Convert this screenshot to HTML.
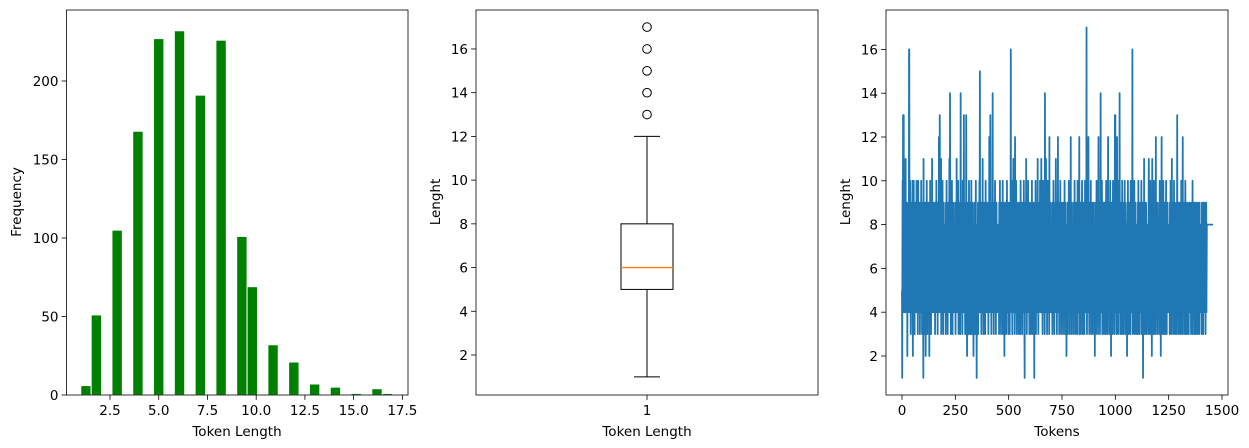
<!DOCTYPE html>
<html><head><meta charset="utf-8"><style>
body{margin:0;background:#fff}
svg{display:block;font-family:"DejaVu Sans","Liberation Sans",sans-serif}
text{font-size:13.5px;fill:#000}
</style></head><body>
<svg id="c" width="1249" height="448" viewBox="0 0 1249 448">
<g id="p1"></g>
<g id="p2"></g>
<g id="p3"></g>
</svg>
<script>
const histLengths=[1,2,3,4,5,6,7,8,9,10,11,12,13,14,15,16,17];
const histCounts=[6,51,105,168,227,232,191,226,101,69,32,21,7,5,1,4,1];
const histXTicks=[2.5,5.0,7.5,10.0,12.5,15.0,17.5];
const histYTicks=[0,50,100,150,200];
const boxStats=[1,5,6,8,12]; // whisker low, q1, median, q3, whisker high
const boxFliers=[13,14,15,16,17];
const lenTicks=[2,4,6,8,10,12,14,16];
const tokenTicks=[0,250,500,750,1000,1250,1500];
const tokenLengths=[
5,1,7,10,6,13,8,4,13,6,5,7,9,4,6,8,5,11,6,4,7,9,5,6,8,2,7,5,4,9,6,8,5,16,16,7,4,6,10,5,8,3,6,7,5,9,4,6,8,10,
5,2,7,6,4,10,5,8,6,3,7,9,5,6,4,8,7,5,10,6,4,8,5,7,3,6,10,5,8,4,6,7,5,9,3,6,8,5,7,4,10,6,5,8,3,7,6,9,5,4,
1,11,6,5,8,4,7,3,6,9,5,2,8,6,4,7,10,5,6,3,8,5,7,4,9,6,5,8,2,6,7,4,10,5,8,6,3,7,5,9,4,11,6,8,5,7,4,6,9,5,
4,8,6,5,7,3,9,6,4,8,5,10,6,7,4,5,9,3,8,6,5,7,4,12,6,5,8,13,7,4,6,9,5,11,3,7,6,8,4,5,10,6,7,3,8,5,9,4,6,7,
5,8,4,6,7,3,9,5,6,10,4,8,7,5,3,6,9,4,7,5,8,6,11,5,4,14,7,6,9,3,5,8,6,4,10,7,5,3,8,6,9,4,7,5,6,8,4,7,5,9,
6,3,8,5,7,4,11,6,9,5,4,8,7,10,6,3,5,8,4,9,7,6,5,3,8,14,6,4,7,9,5,8,6,3,7,10,4,5,8,6,13,7,4,9,5,6,3,8,7,5,
4,13,6,8,5,2,7,9,4,6,5,8,3,7,10,6,4,5,9,7,3,8,6,5,4,10,7,6,3,8,5,9,4,6,7,2,5,8,6,4,9,7,5,3,8,6,10,4,7,5,
1,6,8,4,7,5,9,3,6,8,5,7,4,10,6,15,8,5,7,4,6,9,3,5,8,6,7,4,11,5,6,8,3,7,9,4,6,5,8,7,3,6,10,5,4,8,7,6,9,5,
4,7,5,8,6,3,9,7,4,12,6,5,8,7,13,4,6,9,5,3,7,8,6,4,10,14,5,7,6,9,3,8,4,6,7,5,10,8,4,6,3,7,5,9,6,4,8,7,5,6,
5,8,4,7,6,3,9,5,8,10,4,6,7,5,3,8,6,9,4,7,5,6,10,3,8,7,4,6,9,5,2,8,6,7,4,5,9,6,3,8,7,5,10,4,6,8,5,7,3,9,
6,4,8,7,5,3,9,6,4,7,16,5,8,6,10,4,7,3,9,5,6,8,11,7,4,6,5,9,3,8,12,6,7,4,5,10,8,6,3,7,5,9,4,6,8,7,5,3,6,9,
5,7,4,8,6,3,10,5,9,7,4,6,8,5,3,7,9,6,4,8,5,10,7,6,3,1,8,5,9,4,7,6,11,5,8,3,6,7,4,9,5,10,6,8,4,7,5,3,9,6,
7,4,8,5,6,3,9,7,4,10,6,5,8,3,7,6,9,4,5,8,1,7,6,4,9,5,10,8,3,6,7,5,4,9,6,8,11,5,7,3,6,4,8,9,5,7,6,10,4,8,
5,6,7,11,4,8,6,9,5,3,7,10,6,4,8,5,7,9,6,3,14,8,5,7,4,11,6,9,5,8,3,7,6,10,4,8,5,7,9,6,3,12,5,8,7,4,6,9,5,7,
4,8,6,7,5,3,9,6,8,4,10,7,5,6,3,8,9,4,7,6,5,11,8,4,6,7,3,9,5,8,6,12,4,7,5,9,6,3,8,7,4,6,10,5,8,7,3,6,9,5,
6,8,4,7,5,3,9,6,4,8,7,5,10,6,3,9,4,8,7,5,6,2,8,4,7,9,5,6,3,8,7,4,10,6,5,9,8,3,7,6,4,12,5,8,6,7,3,9,5,4,
7,5,8,4,6,3,9,7,5,10,4,8,6,7,3,5,9,8,4,6,7,5,3,10,8,6,4,9,7,5,6,12,3,8,4,7,6,5,9,3,8,6,4,7,10,5,6,8,3,7,
5,9,4,7,6,3,8,5,10,6,4,7,9,5,8,17,6,3,7,4,9,5,8,6,12,4,7,5,3,9,6,8,4,7,5,10,6,3,8,9,4,7,5,6,8,3,9,5,7,4,
6,8,5,7,2,9,4,6,8,5,3,7,10,6,4,9,8,5,7,3,6,12,4,8,7,5,9,6,3,8,5,14,7,4,6,9,5,10,8,3,7,6,4,5,9,8,6,3,7,5,
4,9,6,7,5,3,8,10,4,6,7,5,9,3,8,6,12,4,7,5,6,9,3,8,7,4,10,5,6,8,2,7,9,4,6,5,8,3,7,10,6,4,9,5,8,7,3,6,13,5,
13,6,8,4,7,5,3,9,12,6,4,8,7,5,3,10,9,6,4,8,14,7,5,6,3,9,4,8,7,5,6,3,10,8,4,7,9,5,6,3,8,7,4,6,10,5,9,8,3,6,
7,5,8,4,6,2,9,7,5,10,4,8,6,3,7,9,5,6,4,8,7,3,10,6,5,9,8,4,7,6,16,5,3,8,7,4,9,6,5,10,3,8,7,4,6,9,5,8,3,7,
5,8,4,7,6,3,9,5,10,6,4,7,8,3,5,9,6,4,8,7,5,6,10,3,8,4,7,9,6,5,1,8,7,4,6,11,5,9,3,8,6,7,4,5,9,8,3,6,7,5,
6,4,8,7,5,3,9,11,4,6,8,5,7,3,10,6,9,4,5,8,7,2,6,11,4,9,5,7,8,3,6,10,5,4,8,7,6,3,9,5,12,4,7,6,8,5,3,9,7,4,
5,8,6,4,7,3,9,5,10,6,4,8,7,2,5,9,6,12,3,7,8,4,6,5,9,10,3,7,8,4,6,5,9,3,7,8,4,6,10,5,7,3,8,6,4,9,5,7,6,8,
4,7,6,5,8,3,9,6,4,10,7,5,8,3,6,11,4,7,9,5,6,8,3,7,4,10,6,5,9,8,3,7,4,6,8,5,9,7,3,6,13,4,8,5,7,9,6,3,8,5,
6,9,4,7,5,3,8,6,4,10,7,5,9,3,8,6,12,4,7,5,6,9,3,8,4,7,6,5,10,8,3,7,9,4,6,5,8,3,7,4,9,6,5,8,3,7,6,4,9,5,
7,4,8,6,5,3,9,7,4,6,8,5,10,3,7,6,9,4,8,5,6,7,3,9,4,8,6,5,7,3,9,6,4,8,5,7,6,3,9,4,8,7,5,6,3,9,4,8,7,5,
6,4,8,7,5,3,9,6,4,8,7,5,3,9,6,4,8,7,5,9,4,6,8,3,7,5,9,4,6,8,
8,8,8,8,8,8,8,8,8,8,8,8,8,8,8,8,8,8,8,8,8,8,8,8,8,8,8,8,8
];

const NS="http://www.w3.org/2000/svg";
function mk(parent,tag,attrs,name,txt){
  const e=document.createElementNS(NS,tag);
  for(const k in attrs)e.setAttribute(k,attrs[k]);
  
  
  if(txt!==undefined)e.textContent=txt;
  parent.appendChild(e);return e;
}
const T=10,B=395;
function frame(g,L,R){
  mk(g,'rect',{x:L,y:T,width:R-L,height:B-T,fill:'none',stroke:'#000','stroke-width':0.8},'axes-frame');
}
function yTicks(g,L,ticks,ys,fmt){
  ticks.forEach(t=>{const y=ys(t);
    mk(g,'line',{x1:L-4.9,x2:L,y1:y,y2:y,stroke:'#000','stroke-width':0.8},'y-tick');
    mk(g,'text',{x:L-8,y:y+5,'text-anchor':'end'},'y-tick-label',fmt(t));});
}
function xTicks(g,ticks,xs,fmt){
  ticks.forEach(t=>{const x=xs(t);
    mk(g,'line',{x1:x,x2:x,y1:B,y2:B+4.9,stroke:'#000','stroke-width':0.8},'x-tick');
    mk(g,'text',{x:x,y:B+20,'text-anchor':'middle'},'x-tick-label',fmt(t));});
}
function ylab(g,x,txt){mk(g,'text',{x:x,y:202,'text-anchor':'middle',transform:`rotate(-90 ${x} 202)`},'y-axis-title',txt);}
function xlab(g,x,txt){mk(g,'text',{x:x,y:436,'text-anchor':'middle'},'x-axis-title',txt);}

// Panel 1: histogram
(function(){
  const g=document.getElementById('p1');const L=66.5,R=408;
  const xs=v=>110+(v-2.5)*19.49, ys=v=>395-v*1.57;
  const bw=16/30;
  histLengths.forEach((len,i)=>{
    const bin=Math.min(29,Math.floor((len-1)/bw+1e-9));
    const x0=xs(1+bin*bw), x1=xs(1+(bin+1)*bw);
    mk(g,'rect',{x:x0,y:ys(histCounts[i]),width:x1-x0,height:ys(0)-ys(histCounts[i]),fill:'#008000',stroke:'#fff','stroke-width':1},'hist-bar');
  });
  frame(g,L,R);
  yTicks(g,L,histYTicks,ys,t=>String(t));
  xTicks(g,histXTicks,xs,t=>t.toFixed(1));
  ylab(g,21,'Frequency');xlab(g,237,'Token Length');
})();

// Panel 2: boxplot
(function(){
  const g=document.getElementById('p2');const L=476,R=818;
  const ys=v=>355-(v-2)*21.86; const cx=647;
  const [lo,q1,med,q3,hi]=boxStats;
  mk(g,'line',{x1:cx,x2:cx,y1:ys(lo),y2:ys(q1),stroke:'#000'},'lower-whisker');
  mk(g,'line',{x1:cx,x2:cx,y1:ys(q3),y2:ys(hi),stroke:'#000'},'upper-whisker');
  mk(g,'line',{x1:cx-13,x2:cx+13,y1:ys(lo),y2:ys(lo),stroke:'#000'},'lower-cap');
  mk(g,'line',{x1:cx-13,x2:cx+13,y1:ys(hi),y2:ys(hi),stroke:'#000'},'upper-cap');
  mk(g,'rect',{x:cx-26,y:ys(q3),width:52,height:ys(q1)-ys(q3),fill:'none',stroke:'#000'},'box');
  mk(g,'line',{x1:cx-26,x2:cx+26,y1:ys(med),y2:ys(med),stroke:'#ff7f0e','stroke-width':1.3},'median-line');
  boxFliers.forEach(f=>mk(g,'circle',{cx:cx,cy:ys(f),r:4.3,fill:'none',stroke:'#000'},'outlier'));
  frame(g,L,R);
  yTicks(g,L,lenTicks,ys,t=>String(t));
  xTicks(g,[1],()=>cx,t=>String(t));
  ylab(g,440,'Lenght');xlab(g,647,'Token Length');
})();

// Panel 3: line
(function(){
  const g=document.getElementById('p3');const L=886,R=1228;
  const xs=v=>902+v*0.21333, ys=v=>356-(v-2)*21.9;
  const d=tokenLengths.map((v,i)=>(i?'L':'M')+xs(i).toFixed(2)+' '+ys(v).toFixed(2)).join('');
  mk(g,'path',{d:d,fill:'none',stroke:'#1f77b4','stroke-width':1.8,'stroke-linejoin':'round'},'token-length-line');
  frame(g,L,R);
  yTicks(g,L,lenTicks,ys,t=>String(t));
  xTicks(g,tokenTicks,xs,t=>String(t));
  ylab(g,850,'Lenght');xlab(g,1057,'Tokens');
})();
</script>
</body></html>
